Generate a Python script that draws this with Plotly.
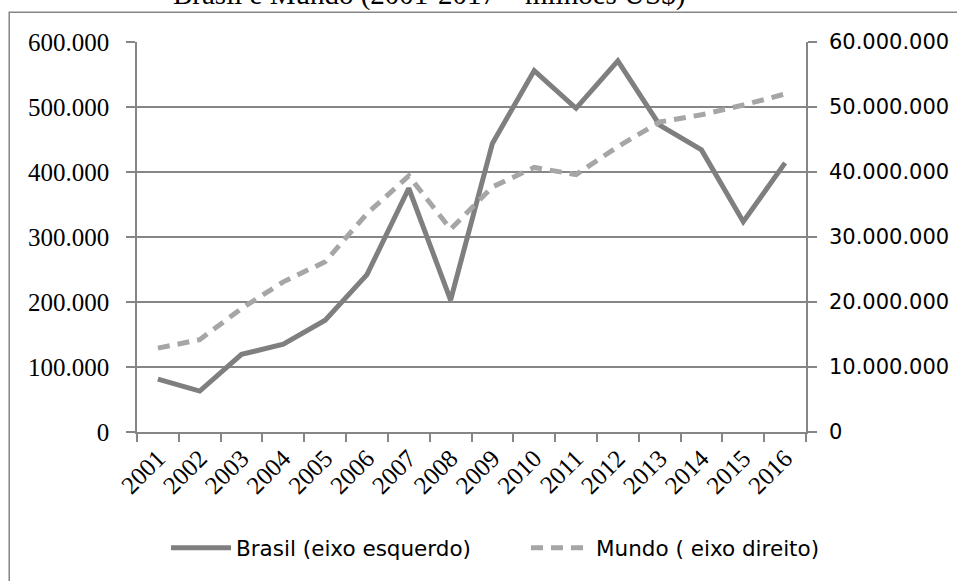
import plotly.graph_objects as go

years = ["2001", "2002", "2003", "2004", "2005", "2006", "2007", "2008",
         "2009", "2010", "2011", "2012", "2013", "2014", "2015", "2016"]
brasil = [81500, 63000, 119500, 135000, 172000, 242000, 375000, 203000,
          444000, 556000, 498000, 571000, 472000, 434000, 323500, 414000]
mundo = [12900000, 14200000, 19000000, 23100000, 26200000, 33600000, 39400000, 31200000,
         37700000, 40700000, 39600000, 43900000, 47700000, 48800000, 50300000, 52000000]
left_ticks = [0, 100000, 200000, 300000, 400000, 500000, 600000]
right_ticks = [0, 10000000, 20000000, 30000000, 40000000, 50000000, 60000000]
title_text = "Brasil e Mundo (2001-2017 – milhões US$)"

AX = "#868686"
SERIF = "Liberation Serif, Times New Roman, serif"
SANS = "DejaVu Sans, sans-serif"

fig = go.Figure()
fig.add_trace(go.Scatter(
    x=years, y=brasil, mode="lines", name="Brasil (eixo esquerdo)",
    line=dict(color="#7f7f7f", width=5), yaxis="y", legend="legend"))
fig.add_trace(go.Scatter(
    x=years, y=mundo, mode="lines", name="Mundo ( eixo direito)",
    line=dict(color="#a6a6a6", width=5, dash="12px,8px"), yaxis="y2", legend="legend2"))

leg_common = dict(orientation="h", xanchor="left", yanchor="middle", y=-0.297,
                  font=dict(family=SANS, size=21.5, color="black"), itemwidth=60,
                  bgcolor="rgba(0,0,0,0)", borderwidth=0)

fig.update_layout(
    template="none",
    font=dict(family=SERIF, size=25, color="black"),
    width=957, height=581,
    margin=dict(l=137, r=151, t=42, b=149, autoexpand=False),
    paper_bgcolor="white", plot_bgcolor="white",
    separators=",.",
    showlegend=True,
    legend=dict(x=0.0434, **leg_common),
    legend2=dict(x=0.5815, **leg_common),
    xaxis=dict(type="category", tickson="boundaries", ticks="outside", ticklen=8,
               tickcolor=AX, tickwidth=1.5, showline=True, linecolor=AX, linewidth=1.5,
               showgrid=False, tickangle=-45, automargin=False,
               tickfont=dict(family=SERIF, size=25, color="black"),
               range=[-0.5, 15.5]),
    yaxis=dict(range=[0, 600000], tickvals=left_ticks, tickformat=",d",
               showgrid=True, gridcolor=AX, gridwidth=1.5, automargin=False,
               showline=True, linecolor=AX, linewidth=1.5,
               ticks="outside", ticklen=9, tickcolor=AX, tickwidth=1.5,
               ticklabelstandoff=12, zeroline=False,
               tickfont=dict(family=SERIF, size=25, color="black")),
    yaxis2=dict(range=[0, 60000000], tickvals=right_ticks, tickformat=",d",
                overlaying="y", side="right", showgrid=False, automargin=False,
                showline=True, linecolor=AX, linewidth=1.5,
                ticks="outside", ticklen=9, tickcolor=AX, tickwidth=1.5,
                ticklabelstandoff=8, zeroline=False,
                tickfont=dict(family=SANS, size=21, color="black")),
    shapes=[dict(type="rect", xref="paper", yref="paper",
                 x0=-0.191, x1=1.4, y0=-0.6, y1=1.076,
                 line=dict(color=AX, width=1.5), fillcolor="rgba(0,0,0,0)", layer="below")],
    annotations=[dict(text=title_text, xref="paper", yref="paper",
                      x=0.4365, y=1.074, xanchor="center", yanchor="bottom",
                      showarrow=False,
                      font=dict(family=SERIF, size=29, color="black"))],
)

fig.write_html("out.html", config={"displayModeBar": False},
               post_script="document.body.style.margin='0px';document.body.style.padding='0px';")
